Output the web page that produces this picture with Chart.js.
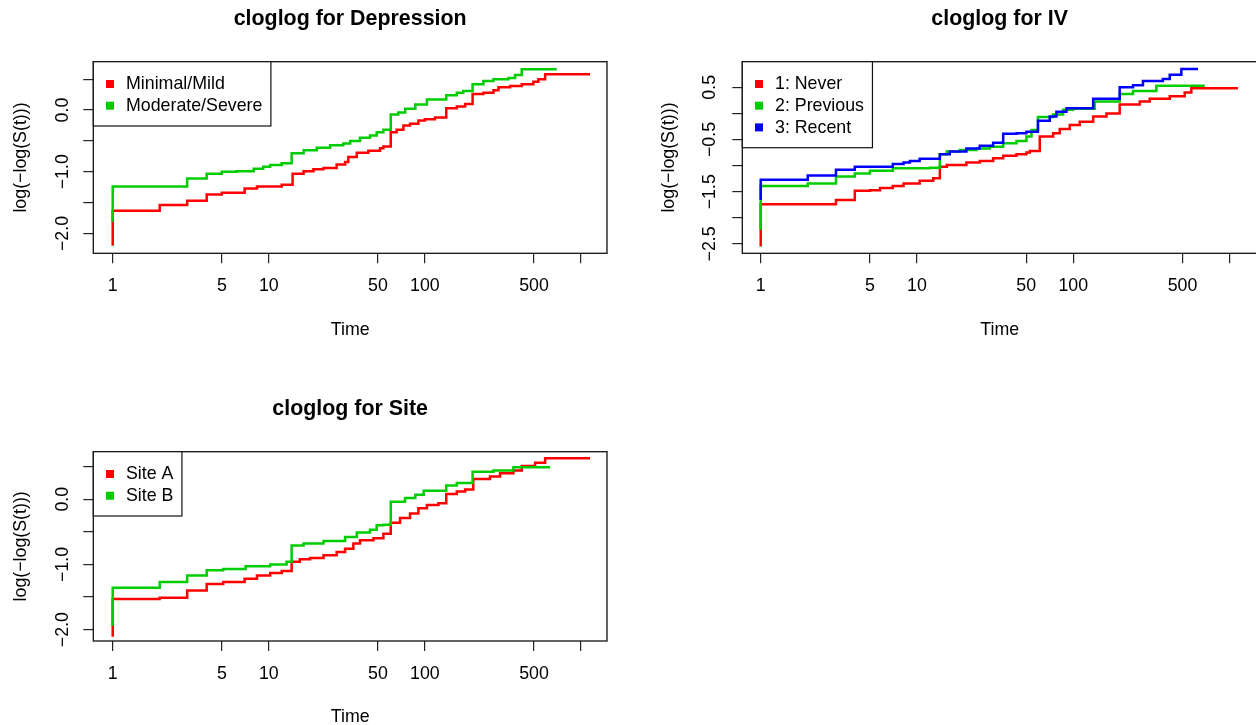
<!DOCTYPE html>
<html><head><meta charset="utf-8">
<script src="https://cdn.jsdelivr.net/npm/chart.js@4.4.1/dist/chart.umd.min.js"></script>
<style>
html,body{margin:0;padding:0;background:#fff;overflow:hidden;width:1256px;height:725px;position:relative;}
canvas{position:absolute;display:block;}
</style></head><body>
<canvas id="c1" width="628" height="362" style="left:0;top:0"></canvas>
<canvas id="c2" width="640" height="362" style="left:628px;top:0"></canvas>
<canvas id="c3" width="628" height="380" style="left:0;top:362px"></canvas>
<script>
// ---------- shared axis ticks ----------
const timeTicks = [1, 5, 10, 50, 100, 500, 1000];
const timeTickLabels = ['1', '5', '10', '50', '100', '500', ''];

// ---------- Depression ----------
const depLabels = ['Minimal/Mild', 'Moderate/Severe'];
const depMildTime = [1, 1, 2, 3, 4, 5, 7, 8.4, 12.1, 14.2, 16.7, 19.3, 22.4, 27.2, 30.8, 32.3, 36.6, 43.4, 51.6, 54.2, 60.4, 65.9, 72.8, 80.3, 90.8, 100, 116, 137, 160, 181, 202, 237, 275, 296, 351, 417, 495, 533, 589, 1142];
const depMildVal = [-2.20, -1.63, -1.54, -1.47, -1.37, -1.34, -1.27, -1.24, -1.21, -1.03, -0.99, -0.96, -0.94, -0.88, -0.84, -0.76, -0.69, -0.66, -0.62, -0.59, -0.36, -0.32, -0.25, -0.22, -0.17, -0.15, -0.12, 0.03, 0.06, 0.10, 0.26, 0.28, 0.32, 0.37, 0.39, 0.42, 0.46, 0.50, 0.58, 0.58];
const depSevTime = [1, 1, 3, 4, 5, 6.2, 8.0, 9.2, 10.2, 12.1, 14.0, 16.7, 20.3, 24.7, 30, 33.2, 38.4, 44.5, 49.1, 54.2, 60.4, 67.5, 74.8, 86.8, 103, 137, 160, 176, 202, 237, 275, 343, 378, 417, 699];
const depSevVal = [-1.81, -1.24, -1.11, -1.03, -1.00, -0.99, -0.95, -0.92, -0.89, -0.86, -0.70, -0.65, -0.61, -0.57, -0.54, -0.50, -0.45, -0.41, -0.36, -0.32, -0.07, -0.04, 0.02, 0.09, 0.17, 0.24, 0.28, 0.31, 0.42, 0.47, 0.50, 0.52, 0.57, 0.66, 0.66];
const depYTicks = [0.5, 0, -0.5, -1, -1.5, -2];
const depYTickLabels = ['', '0.0', '', '\u22121.0', '', '\u22122.0'];

// ---------- IV ----------
const ivLabels = ['1: Never', '2: Previous', '3: Recent'];
const ivNeverTime = [1, 1, 3.03, 4.0, 5.0, 5.8, 7.0, 8.2, 10.4, 12.7, 14.0, 15.5, 20.7, 25.2, 30.7, 35.6, 43.3, 50.1, 52.7, 61.0, 74.3, 81.9, 94.9, 110, 134, 163, 198, 266, 308, 414, 516, 569, 1131];
const ivNeverVal = [-2.55, -1.74, -1.66, -1.48, -1.47, -1.43, -1.39, -1.34, -1.29, -1.24, -1.02, -0.99, -0.94, -0.91, -0.86, -0.81, -0.78, -0.75, -0.72, -0.44, -0.38, -0.30, -0.22, -0.16, -0.06, 0.00, 0.17, 0.23, 0.28, 0.33, 0.40, 0.48, 0.48];
const ivPrevTime = [1, 1, 2, 3.03, 4, 5, 7, 12.1, 14, 15.5, 18.8, 24, 29.2, 35.6, 43.3, 50.1, 54, 59.4, 74.3, 86, 99.6, 137, 198, 241, 340, 693];
const ivPrevVal = [-2.23, -1.39, -1.34, -1.21, -1.15, -1.10, -1.05, -1.04, -0.78, -0.73, -0.70, -0.67, -0.64, -0.57, -0.53, -0.44, -0.32, -0.07, -0.02, 0.07, 0.09, 0.23, 0.37, 0.43, 0.53, 0.53];
const ivRecTime = [1, 1, 2, 3.03, 4, 7, 8.2, 9, 10.4, 14, 16.2, 20.7, 25.2, 30.7, 35.6, 43.3, 50.1, 59.4, 70.7, 78, 90.4, 134, 198, 241, 279, 374, 414, 491, 628];
const ivRecVal = [-1.66, -1.27, -1.19, -1.08, -1.02, -0.97, -0.94, -0.91, -0.87, -0.78, -0.73, -0.67, -0.62, -0.56, -0.39, -0.38, -0.35, -0.14, -0.06, 0.03, 0.10, 0.28, 0.50, 0.54, 0.62, 0.66, 0.74, 0.85, 0.85];
const ivYTicks = [0.5, 0, -0.5, -1, -1.5, -2, -2.5];
const ivYTickLabels = ['0.5', '', '\u22120.5', '', '\u22121.5', '', '\u22122.5'];

// ---------- Site ----------
const siteLabels = ['Site A', 'Site B'];
const siteATime = [1, 1, 2, 3, 4, 5.1, 7, 8.4, 10.2, 12.1, 14, 15.8, 18.4, 22.4, 27.2, 30.8, 34.8, 38.4, 46.8, 54.2, 60.4, 69.3, 80.3, 90.8, 103, 122, 137, 160, 181, 204, 261, 303, 369, 417, 508, 589, 1142];
const siteAVal = [-2.11, -1.53, -1.51, -1.40, -1.30, -1.27, -1.22, -1.17, -1.13, -1.10, -0.96, -0.92, -0.90, -0.86, -0.81, -0.76, -0.68, -0.63, -0.60, -0.53, -0.36, -0.29, -0.22, -0.14, -0.09, -0.06, 0.08, 0.12, 0.15, 0.31, 0.35, 0.40, 0.44, 0.51, 0.56, 0.63, 0.63];
const siteBTime = [1, 1, 2, 3, 4, 5.1, 7.1, 10.2, 13, 14, 16.7, 22.4, 30.8, 36.6, 44.5, 49.1, 54.2, 60.4, 74.6, 86.8, 98.2, 137, 160, 202, 275, 369, 634];
const siteBVal = [-1.94, -1.36, -1.27, -1.17, -1.09, -1.07, -1.03, -1.00, -0.96, -0.71, -0.68, -0.64, -0.58, -0.51, -0.47, -0.40, -0.39, -0.04, 0.02, 0.07, 0.13, 0.21, 0.25, 0.42, 0.44, 0.49, 0.49];
const siteYTicks = [0.5, 0, -0.5, -1, -1.5, -2];
const siteYTickLabels = ['', '0.0', '', '\u22121.0', '', '\u22122.0'];

const COLORS = ['#FF0000', '#00CD00', '#0000FF'];
const FONT = "'Liberation Sans', Arial, Helvetica, sans-serif";
const FS = 17.8;

// plot box + title centred over the plot region (as R does)
const boxPlugin = {
  id: 'rBox',
  afterDraw(chart, args, opts) {
    const {ctx, chartArea: a} = chart;
    ctx.save();
    ctx.strokeStyle = '#111';
    ctx.lineWidth = 1.3;
    ctx.strokeRect(a.left, a.top, a.right - a.left, a.bottom - a.top);
    ctx.fillStyle = '#000';
    ctx.font = 'bold 21.4px ' + FONT;
    ctx.textAlign = 'center';
    ctx.textBaseline = 'middle';
    ctx.fillText(opts.text, (a.left + a.right) / 2, opts.y);
    ctx.restore();
  }
};

const legendPlugin = {
  id: 'rLegend',
  afterDraw(chart, args, opts) {
    const {ctx, chartArea: a} = chart;
    ctx.save();
    ctx.font = FS + 'px ' + FONT;
    const tw = Math.max(...opts.labels.map(l => ctx.measureText(l).width));
    const w = 32.7 + tw + 8.5;
    const h = 42.6 + (opts.labels.length - 1) * 21.7;
    ctx.fillStyle = '#fff';
    ctx.fillRect(a.left, a.top, w, h);
    ctx.strokeStyle = '#111';
    ctx.lineWidth = 1.2;
    ctx.strokeRect(a.left, a.top, w, h);
    opts.labels.forEach((l, i) => {
      const cy = a.top + 22.3 + i * 21.7;
      ctx.fillStyle = opts.colors[i];
      ctx.fillRect(a.left + 12.7, cy - 4, 8, 8);
      ctx.fillStyle = '#000';
      ctx.textBaseline = 'middle';
      ctx.textAlign = 'left';
      ctx.fillText(l, a.left + 32.7, cy + 0.5);
    });
    ctx.restore();
  }
};

function buildPanel(id, p) {
  const datasets = p.series.map((s, i) => ({
    label: s.name,
    data: s.t.map((t, j) => ({x: t, y: s.v[j]})),
    borderColor: COLORS[i],
    backgroundColor: COLORS[i],
    borderWidth: 2.5,
    pointRadius: 0,
    stepped: true,
    fill: false,
    tension: 0,
    order: -i
  }));
  const font = {family: FONT, size: FS, lineHeight: 1.2};
  const grid = {drawOnChartArea: false, drawTicks: true, tickLength: 10, color: '#222', lineWidth: 1.2};
  new Chart(document.getElementById(id), {
    type: 'line',
    data: {datasets},
    options: {
      responsive: false,
      animation: false,
      events: [],
      layout: {padding: p.pad},
      plugins: {
        legend: {display: false},
        tooltip: {enabled: false},
        title: {display: false},
        rBox: {text: p.title, y: p.titleY},
        rLegend: {labels: p.series.map(s => s.name), colors: COLORS}
      },
      scales: {
        x: {
          type: 'logarithmic', min: p.xMin, max: p.xMax,
          afterBuildTicks: s => { s.ticks = timeTicks.map(v => ({value: v})); },
          afterFit: s => { s.height = p.xAxisH; },
          ticks: {autoSkip: false, minRotation: 0, maxRotation: 0, padding: p.xTickPad, color: '#000', font,
            callback: (v, i) => timeTickLabels[i]},
          grid, border: {display: false},
          title: {display: true, text: 'Time', color: '#000', font, padding: {top: 0, bottom: p.xTitlePad}}
        },
        y: {
          type: 'linear', min: p.yMin, max: p.yMax,
          afterBuildTicks: s => { s.ticks = p.yTicks.map(v => ({value: v})); },
          afterFit: s => { s.width = p.yAxisW; },
          ticks: {autoSkip: false, minRotation: 90, maxRotation: 90, crossAlign: 'center', padding: p.yTickPad,
            color: '#000', font, callback: (v, i) => p.yLabels[i]},
          grid, border: {display: false},
          title: {display: true, text: 'log(\u2212log(S(t)))', color: '#000', font, padding: {top: p.yTitlePad, bottom: 0}}
        }
      }
    },
    plugins: [boxPlugin, legendPlugin]
  });
}

buildPanel('c1', {
  title: 'cloglog for Depression', titleY: 19.6,
  series: [{name: depLabels[0], t: depMildTime, v: depMildVal}, {name: depLabels[1], t: depSevTime, v: depSevVal}],
  xMin: 0.751, xMax: 1467, yMin: -2.321, yMax: 0.784,
  yTicks: depYTicks, yLabels: depYTickLabels,
  pad: {left: 0, right: 21, top: 61.7, bottom: 0},
  yAxisW: 93.3, xAxisH: 108.7, xTickPad: 12.4, xTitlePad: 21.3, yTickPad: 2.4, yTitlePad: 10.3
});

buildPanel('c2', {
  title: 'cloglog for IV', titleY: 19.6,
  series: [{name: ivLabels[0], t: ivNeverTime, v: ivNeverVal}, {name: ivLabels[1], t: ivPrevTime, v: ivPrevVal}, {name: ivLabels[2], t: ivRecTime, v: ivRecVal}],
  xMin: 0.7626, xMax: 1497, yMin: -2.679, yMax: 0.990,
  yTicks: ivYTicks, yLabels: ivYTickLabels,
  pad: {left: 0, right: 11, top: 61.7, bottom: 0},
  yAxisW: 114.3, xAxisH: 108.7, xTickPad: 12.4, xTitlePad: 21.3, yTickPad: 4.4, yTitlePad: 30.3
});

buildPanel('c3', {
  title: 'cloglog for Site', titleY: 47.6,
  series: [{name: siteLabels[0], t: siteATime, v: siteAVal}, {name: siteLabels[1], t: siteBTime, v: siteBVal}],
  xMin: 0.751, xMax: 1467, yMin: -2.175, yMax: 0.729,
  yTicks: siteYTicks, yLabels: siteYTickLabels,
  pad: {left: 0, right: 21, top: 89.7, bottom: 0},
  yAxisW: 93.3, xAxisH: 101, xTickPad: 12.4, xTitlePad: 14.3, yTickPad: 2.9, yTitlePad: 10.3
});
</script>
</body></html>
